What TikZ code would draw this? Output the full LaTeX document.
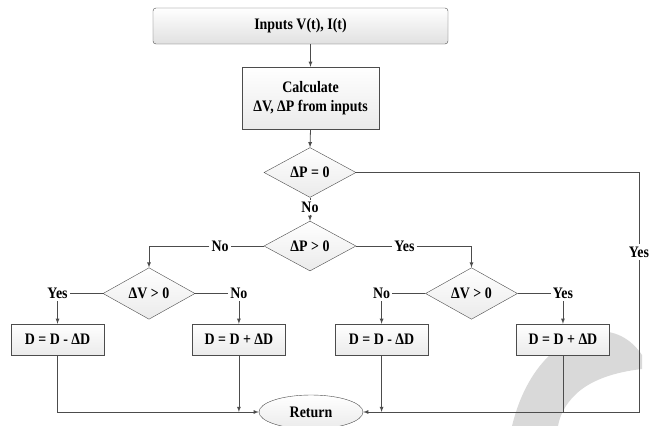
\documentclass[tikz,border=0pt]{standalone}
\usepackage{fontspec}
\setmainfont{Liberation Serif}[FakeStretch=0.87]
\usetikzlibrary{shapes,arrows,positioning}

\begin{document}
\begin{tikzpicture}[x=1pt,y=-1pt,node distance=33pt,
		font=\fontsize{16}{19}\selectfont\bfseries,
		box/.style={draw=black!70,rectangle,inner sep=2pt,top color=white,bottom color=black!8,minimum width=93pt,minimum height=31pt},
		dec/.style={draw=black!70,diamond,inner sep=0pt,top color=white,bottom color=black!8,minimum width=92pt,minimum height=46pt},
		lbl/.style={inner sep=2pt},
		line/.style={draw=black!70,line width=0.8pt},
		arr/.style={line,->,>=latex}]
		\useasboundingbox (0,0) rectangle (649,426);
		% grey swoosh in the back
		\fill[gray!30] (512,426) .. controls (522,385) and (545,345) .. (590,332)
			.. controls (615,328) and (632,340) .. (642,355) -- (642,369)
			.. controls (615,372) and (590,380) .. (575,395)
			.. controls (565,405) and (560,415) .. (558,426) -- cycle;
		\node[draw=black!70,rounded corners=3pt,top color=white,bottom color=black!12,minimum width=295pt,minimum height=36pt] (inputs) at (300.5,26) {Inputs V(t), I(t)};
		\node[box,minimum width=137pt,minimum height=62pt,align=center] (calc) at (310.5,98) {Calculate\\ΔV, ΔP from inputs};
		\node[dec] (dp0) at (310,172.5) {ΔP = 0};
		\node[lbl] (no0) [below=2pt of dp0] {No};
		\node[dec] (dp1) at (310,246) {ΔP > 0};
		\node[lbl] (no1) [left=of dp1] {No};
		\node[lbl] (yes1) [right=36pt of dp1] {Yes};
		\node[lbl] (yes0) at (639,252) {Yes};
		\node[dec] (dvl) at (149,293.5) {ΔV > 0};
		\node[dec] (dvr) at (471.5,293.5) {ΔV > 0};
		\node[lbl] (yesl) [left=of dvl] {Yes};
		\node[lbl] (nol) [right=of dvl] {No};
		\node[lbl] (nor) [left=of dvr] {No};
		\node[lbl] (yesr) [right=of dvr] {Yes};
		\node[box] (dl1) at (yesl |- 0,339.5) {D = D - ΔD};
		\node[box] (dl2) at (nol |- 0,339.5) {D = D + ΔD};
		\node[box] (dr1) at (nor |- 0,339.5) {D = D - ΔD};
		\node[box] (dr2) at (yesr |- 0,339.5) {D = D + ΔD};
		\node[draw=black!70,ellipse,inner sep=0pt,top color=white,bottom color=black!8,minimum width=104pt,minimum height=34pt] (ret) at (311,412) {Return};
		% top part
		\draw[arr] (inputs.south -| calc.north) -- (calc.north);
		\draw[arr] (calc.south) -- (dp0.north);
		\draw[line] (dp0.south) -- (no0.north);
		\draw[arr] (no0.south) -- (dp1.north);
		\draw[line] (dp0.east) -| (yes0.north);
		\draw[arr] (yes0.south) |- (ret.east);
		% branches
		\draw[line] (dp1.west) -- (no1.east);
		\draw[arr] (no1.west) -| (dvl.north);
		\draw[line] (dp1.east) -- (yes1.west);
		\draw[arr] (yes1.east) -| (dvr.north);
		\draw[line] (dvl.west) -- (yesl.east);
		\draw[line] (dvl.east) -- (nol.west);
		\draw[line] (dvr.west) -- (nor.east);
		\draw[line] (dvr.east) -- (yesr.west);
		\draw[arr] (yesl.south) -- (dl1.north);
		\draw[arr] (nol.south) -- (dl2.north);
		\draw[arr] (nor.south) -- (dr1.north);
		\draw[arr] (yesr.south) -- (dr2.north);
		% back to return
		\draw[arr] (dl1.south) |- (ret.west);
		\draw[arr] (dl2.south) -- (dl2.south |- ret.west);
		\draw[arr] (dr1.south) -- (dr1.south |- ret.east);
		\draw[line] (dr2.south) -- (dr2.south |- ret.east);
	\end{tikzpicture}
\end{document}
